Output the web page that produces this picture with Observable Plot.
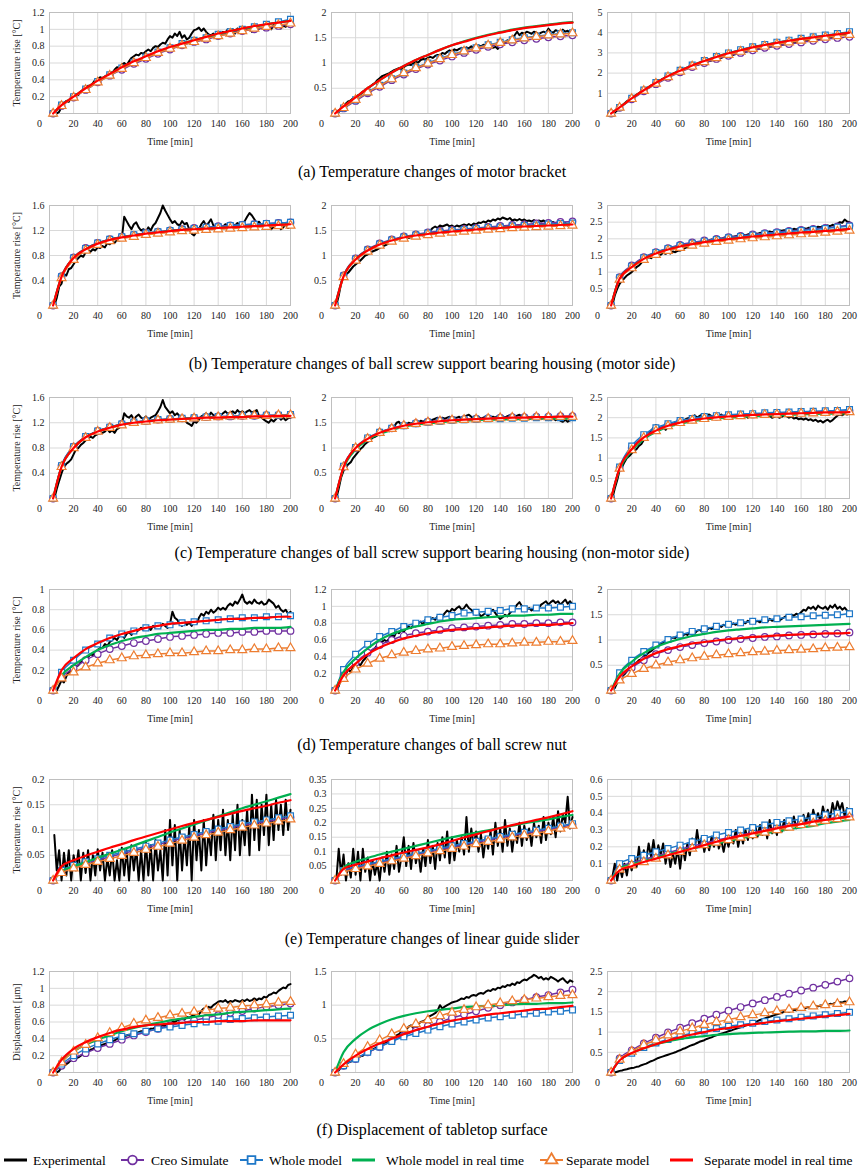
<!DOCTYPE html>
<html><head><meta charset="utf-8">
<script src="https://cdn.jsdelivr.net/npm/d3@7"></script>
<script src="https://cdn.jsdelivr.net/npm/@observablehq/plot@0.6"></script>
<style>
html,body{margin:0;padding:0;background:#fff;}
#page{position:relative;width:864px;height:1173px;overflow:hidden;font-family:"Liberation Serif","Times New Roman",serif;}
.panel{position:absolute;}
.caption{position:absolute;left:0;width:864px;text-align:center;font-size:16px;color:#000;line-height:20px;}
#legend{position:absolute;left:0;top:1148px;}
</style></head><body><div id="page"></div>
<script>
// ---------- shared axes ----------
const tModel = [3,10,20,30,40,50,60,70,80,90,100,110,120,130,140,150,160,170,180,190,200];
const tExp = d3.range(4, 201, 2);
const xTicks = [20,40,60,80,100,120,140,160,180,200];
const xZeroLabel = ["0"];
const seriesNames = ["Experimental","Creo Simulate","Whole model","Whole model in real time","Separate model","Separate model in real time"];
const captions = [
  "(a) Temperature changes of motor bracket",
  "(b) Temperature changes of ball screw support bearing housing (motor side)",
  "(c) Temperature changes of ball screw support bearing housing (non-motor side)",
  "(d) Temperature changes of ball screw nut",
  "(e) Temperature changes of linear guide slider",
  "(f) Displacement of tabletop surface"
];
const yLabels = ["Temperature rise [°C]","Temperature rise [°C]","Temperature rise [°C]","Temperature rise [°C]","Temperature rise [°C]","Displacement [μm]"];
const yMaxes = [[1.2,2,5],[1.6,2,3],[1.6,2,2.5],[1,1.2,2],[0.2,0.35,0.6],[1.2,1.5,2.5]];
const yTickSets = [
  [[0.2,0.4,0.6,0.8,1,1.2],[0.5,1,1.5,2],[1,2,3,4,5]],
  [[0.4,0.8,1.2,1.6],[0.5,1,1.5,2],[0.5,1,1.5,2,2.5,3]],
  [[0.4,0.8,1.2,1.6],[0.5,1,1.5,2],[0.5,1,1.5,2,2.5]],
  [[0.2,0.4,0.6,0.8,1],[0.2,0.4,0.6,0.8,1,1.2],[0.5,1,1.5,2]],
  [[0.05,0.1,0.15,0.2],[0.05,0.1,0.15,0.2,0.25,0.3,0.35],[0.1,0.2,0.3,0.4,0.5,0.6]],
  [[0.2,0.4,0.6,0.8,1,1.2],[0.5,1,1.5],[0.5,1,1.5,2,2.5]]
];

// ---------- (a) motor bracket ----------
const a1Exp = [0,0.0,0.02,0.08,0.12,0.15,0.14,0.19,0.2,0.23, 0.22,0.26,0.27,0.3,0.33,0.32,0.36,0.4,0.41,0.43, 0.42,0.44,0.46,0.45,0.48,0.52,0.55,0.54,0.58,0.6, 0.57,0.62,0.66,0.68,0.7,0.69,0.72,0.71,0.74,0.76, 0.74,0.78,0.8,0.79,0.82,0.84,0.83,0.88,0.92,0.9, 0.95,0.92,0.97,0.9,0.93,0.88,0.9,0.95,0.99,1.0, 1.02,0.98,1.01,0.97,0.94,0.93,0.95,0.9,0.96,0.92, 0.97,0.96,1.0,0.97,1.0,0.95,1.01,0.99,1.02,0.98, 1.0,1.02,0.97,1.03,0.99,1.01,1.02,1.0,1.04,1.03, 1.0,1.05,1.02,1.04,1.01,1.05,1.03,1.06,1.05];
const a1Creo = [0,0.09,0.19,0.28,0.37,0.45,0.52,0.59,0.65,0.71,0.76,0.81,0.85,0.88,0.92,0.95,0.98,1.0,1.02,1.04,1.06];
const a1Whole = [0,0.1,0.2,0.29,0.38,0.46,0.54,0.61,0.67,0.73,0.78,0.83,0.87,0.9,0.94,0.97,1.0,1.03,1.06,1.09,1.12];
const a1WholeRT = [0,0.1,0.2,0.3,0.39,0.47,0.55,0.61,0.67,0.73,0.78,0.83,0.87,0.91,0.94,0.98,1.01,1.03,1.06,1.08,1.1];
const a1Sep = [0,0.09,0.19,0.28,0.37,0.45,0.53,0.6,0.66,0.72,0.77,0.81,0.85,0.89,0.92,0.95,0.98,1.01,1.03,1.05,1.07];
const a1SepRT = [0,0.1,0.2,0.3,0.39,0.47,0.55,0.62,0.68,0.74,0.79,0.83,0.87,0.91,0.95,0.98,1.01,1.04,1.06,1.08,1.1];

const a2Exp = [0,0.03,0.08,0.15,0.2,0.24,0.26,0.3,0.33,0.36, 0.38,0.42,0.45,0.5,0.53,0.57,0.6,0.66,0.7,0.74, 0.76,0.78,0.8,0.83,0.86,0.88,0.9,0.88,0.92,0.95, 0.97,0.96,1.0,1.02,1.01,1.06,1.08,1.07,1.1,1.12, 1.1,1.14,1.16,1.15,1.2,1.18,1.22,1.25,1.23,1.27, 1.25,1.28,1.3,1.27,1.31,1.29,1.33,1.3,1.32,1.35, 1.33,1.36,1.35,1.38,1.33,1.3,1.32,1.28,1.35,1.38, 1.4,1.45,1.42,1.48,1.55,1.62,1.55,1.6,1.58,1.62, 1.6,1.58,1.62,1.6,1.57,1.6,1.62,1.6,1.68,1.62, 1.6,1.65,1.63,1.6,1.66,1.62,1.64,1.6,1.63];
const a2Creo = [0,0.1,0.25,0.4,0.53,0.66,0.77,0.88,0.97,1.05,1.13,1.2,1.26,1.32,1.37,1.41,1.45,1.48,1.51,1.53,1.55];
const a2Whole = [0,0.11,0.27,0.42,0.56,0.69,0.8,0.91,1.0,1.09,1.17,1.24,1.3,1.36,1.41,1.46,1.5,1.53,1.56,1.58,1.6];
const a2WholeRT = [0,0.14,0.32,0.5,0.66,0.81,0.94,1.06,1.16,1.26,1.35,1.43,1.5,1.56,1.61,1.66,1.7,1.73,1.76,1.79,1.81];
const a2Sep = [0,0.11,0.27,0.42,0.55,0.68,0.8,0.9,0.99,1.08,1.16,1.23,1.29,1.35,1.4,1.45,1.49,1.52,1.55,1.57,1.59];
const a2SepRT = [0,0.14,0.32,0.5,0.66,0.81,0.94,1.06,1.16,1.26,1.35,1.42,1.49,1.55,1.6,1.65,1.69,1.72,1.75,1.78,1.8];

const a3Exp = [0,0.05,0.15,0.3,0.4,0.5,0.6,0.68,0.76,0.85, 0.92,1.0,1.08,1.15,1.22,1.3,1.38,1.45,1.55,1.6, 1.65,1.72,1.78,1.82,1.9,1.95,2.0,2.05,2.1,2.15, 2.2,2.22,2.28,2.32,2.38,2.4,2.45,2.48,2.52,2.55, 2.6,2.62,2.66,2.7,2.72,2.75,2.8,2.82,2.85,2.88, 2.9,2.94,2.96,3.0,3.02,3.05,3.08,3.1,3.12,3.15, 3.18,3.2,3.22,3.25,3.27,3.3,3.32,3.33,3.35,3.38, 3.4,3.42,3.44,3.46,3.48,3.5,3.52,3.54,3.56,3.58, 3.6,3.62,3.63,3.65,3.67,3.68,3.7,3.72,3.74,3.76, 3.78,3.8,3.82,3.84,3.86,3.88,3.9,3.92,3.94];
const a3Creo = [0,0.28,0.7,1.1,1.45,1.77,2.04,2.3,2.5,2.7,2.86,3.0,3.13,3.25,3.35,3.44,3.52,3.6,3.67,3.74,3.8];
const a3Whole = [0,0.3,0.75,1.16,1.53,1.86,2.14,2.4,2.62,2.82,3.0,3.16,3.3,3.42,3.53,3.63,3.72,3.8,3.88,3.96,4.05];
const a3WholeRT = [0,0.3,0.75,1.15,1.52,1.85,2.12,2.38,2.6,2.8,2.98,3.13,3.27,3.39,3.5,3.6,3.69,3.77,3.85,3.92,4.0];
const a3Sep = [0,0.29,0.72,1.12,1.48,1.8,2.08,2.33,2.55,2.74,2.91,3.06,3.2,3.32,3.43,3.52,3.61,3.69,3.76,3.83,3.9];
const a3SepRT = [0,0.3,0.75,1.15,1.52,1.85,2.12,2.38,2.6,2.8,2.98,3.13,3.27,3.39,3.5,3.6,3.69,3.77,3.85,3.92,4.0];

// ---------- (b) bearing housing, motor side ----------
const b1Exp = [0,0.12,0.3,0.35,0.5,0.48,0.58,0.6,0.66,0.72, 0.76,0.8,0.78,0.85,0.88,0.86,0.9,0.88,0.93,0.92, 0.95,0.93,1.0,0.98,1.02,1.0,1.05,1.04,1.06,1.42, 1.35,1.28,1.22,1.3,1.33,1.25,1.2,1.22,1.18,1.25, 1.2,1.28,1.32,1.4,1.48,1.6,1.52,1.45,1.38,1.32, 1.35,1.3,1.28,1.35,1.3,1.32,1.22,1.15,1.12,1.18, 1.22,1.3,1.35,1.28,1.32,1.38,1.28,1.25,1.3,1.24, 1.26,1.3,1.28,1.25,1.3,1.28,1.32,1.28,1.3,1.35, 1.42,1.48,1.44,1.38,1.32,1.34,1.28,1.3,1.24,1.28, 1.22,1.26,1.24,1.28,1.22,1.25,1.3,1.24,1.27];
const b1Creo = [0,0.47,0.77,0.92,1.0,1.06,1.1,1.13,1.16,1.18,1.2,1.22,1.24,1.25,1.27,1.28,1.29,1.3,1.31,1.32,1.33];
const b1Whole = [0,0.46,0.76,0.91,1.0,1.06,1.1,1.13,1.16,1.18,1.2,1.22,1.23,1.25,1.26,1.28,1.29,1.3,1.31,1.32,1.33];
const b1WholeRT = [0,0.46,0.76,0.9,0.99,1.05,1.09,1.12,1.15,1.17,1.19,1.21,1.22,1.23,1.24,1.25,1.26,1.27,1.28,1.29,1.3];
const b1Sep = [0,0.44,0.73,0.88,0.97,1.03,1.07,1.1,1.13,1.15,1.17,1.19,1.2,1.21,1.22,1.23,1.24,1.25,1.26,1.27,1.28];
const b1SepRT = [0,0.46,0.76,0.9,0.99,1.05,1.09,1.12,1.15,1.17,1.19,1.21,1.22,1.23,1.24,1.25,1.26,1.27,1.28,1.29,1.3];

const b2Exp = [0,0.2,0.45,0.6,0.62,0.66,0.72,0.78,0.82,0.86, 0.9,0.95,1.0,1.02,1.05,1.08,1.1,1.12,1.15,1.18, 1.2,1.22,1.25,1.28,1.3,1.32,1.34,1.38,1.36,1.38, 1.35,1.37,1.36,1.38,1.4,1.42,1.4,1.43,1.45,1.5, 1.55,1.58,1.55,1.6,1.58,1.6,1.62,1.58,1.6,1.57, 1.6,1.58,1.6,1.62,1.6,1.63,1.6,1.64,1.62,1.66, 1.65,1.68,1.66,1.7,1.68,1.72,1.7,1.74,1.72,1.76, 1.74,1.72,1.75,1.7,1.72,1.7,1.73,1.7,1.72,1.69, 1.7,1.68,1.71,1.67,1.7,1.68,1.7,1.66,1.68,1.65, 1.67,1.64,1.66,1.63,1.62,1.65,1.6,1.63,1.64];
const b2Creo = [0,0.6,0.94,1.12,1.24,1.32,1.38,1.42,1.46,1.49,1.51,1.53,1.55,1.57,1.59,1.61,1.62,1.64,1.65,1.67,1.68];
const b2Whole = [0,0.59,0.93,1.11,1.23,1.31,1.37,1.41,1.45,1.47,1.5,1.52,1.54,1.56,1.57,1.59,1.6,1.61,1.63,1.64,1.65];
const b2WholeRT = [0,0.58,0.92,1.1,1.22,1.3,1.36,1.4,1.43,1.46,1.48,1.5,1.52,1.54,1.55,1.57,1.58,1.59,1.6,1.61,1.62];
const b2Sep = [0,0.57,0.9,1.08,1.2,1.28,1.34,1.38,1.41,1.44,1.46,1.48,1.5,1.52,1.53,1.55,1.56,1.57,1.58,1.59,1.6];
const b2SepRT = [0,0.58,0.92,1.1,1.22,1.3,1.36,1.4,1.43,1.46,1.48,1.5,1.52,1.54,1.55,1.57,1.58,1.59,1.6,1.61,1.62];

const b3Exp = [0,0.3,0.5,0.65,0.75,0.82,0.9,0.95,1.0,1.08, 1.15,1.2,1.28,1.35,1.4,1.45,1.42,1.48,1.5,1.55, 1.52,1.58,1.55,1.6,1.56,1.62,1.6,1.64,1.65,1.68, 1.72,1.75,1.8,1.82,1.85,1.88,1.9,1.88,1.92,1.94, 1.95,1.98,1.96,2.0,2.02,2.0,2.03,2.05,2.04,2.07, 2.06,2.08,2.1,2.09,2.12,2.1,2.13,2.15,2.14,2.16, 2.15,2.18,2.17,2.2,2.19,2.22,2.2,2.23,2.22,2.25, 2.24,2.26,2.25,2.28,2.27,2.3,2.28,2.3,2.29,2.32, 2.3,2.33,2.32,2.35,2.34,2.36,2.35,2.38,2.36,2.4, 2.38,2.42,2.4,2.45,2.5,2.48,2.58,2.52,2.5];
const b3Creo = [0,0.85,1.2,1.45,1.6,1.72,1.82,1.89,1.95,2.0,2.05,2.09,2.13,2.17,2.2,2.24,2.27,2.3,2.33,2.37,2.4];
const b3Whole = [0,0.83,1.18,1.43,1.59,1.71,1.8,1.87,1.93,1.98,2.03,2.07,2.11,2.15,2.18,2.22,2.25,2.28,2.31,2.35,2.38];
const b3WholeRT = [0,0.8,1.15,1.4,1.56,1.68,1.77,1.84,1.9,1.95,1.99,2.03,2.07,2.1,2.13,2.16,2.19,2.21,2.24,2.26,2.3];
const b3Sep = [0,0.78,1.12,1.37,1.52,1.64,1.73,1.8,1.86,1.91,1.95,1.99,2.02,2.05,2.08,2.11,2.14,2.16,2.19,2.22,2.25];
const b3SepRT = [0,0.8,1.15,1.4,1.56,1.68,1.77,1.84,1.9,1.95,1.99,2.03,2.07,2.1,2.13,2.16,2.19,2.21,2.24,2.26,2.3];

// ---------- (c) bearing housing, non-motor side ----------
const c1Exp = [0,0.15,0.28,0.4,0.5,0.55,0.58,0.62,0.7,0.78, 0.8,0.85,0.88,0.92,0.95,0.98,0.96,1.0,1.02,1.05, 1.04,1.06,1.1,1.05,1.08,1.04,1.1,1.12,1.18,1.35, 1.3,1.28,1.32,1.25,1.3,1.33,1.28,1.26,1.3,1.25, 1.28,1.3,1.32,1.38,1.45,1.56,1.45,1.4,1.35,1.38, 1.32,1.35,1.3,1.28,1.25,1.2,1.18,1.15,1.22,1.2, 1.25,1.3,1.32,1.35,1.3,1.36,1.32,1.3,1.35,1.32, 1.35,1.38,1.34,1.36,1.38,1.35,1.4,1.36,1.38,1.35, 1.38,1.4,1.36,1.38,1.4,1.3,1.28,1.25,1.22,1.2, 1.25,1.22,1.26,1.3,1.25,1.28,1.24,1.27,1.28];
const c1Creo = [0,0.52,0.82,0.98,1.07,1.13,1.18,1.21,1.23,1.25,1.26,1.27,1.28,1.29,1.3,1.3,1.31,1.31,1.32,1.32,1.33];
const c1Whole = [0,0.52,0.82,0.98,1.07,1.13,1.18,1.21,1.23,1.25,1.26,1.27,1.28,1.29,1.3,1.3,1.31,1.31,1.32,1.32,1.33];
const c1WholeRT = [0,0.5,0.8,0.97,1.06,1.12,1.17,1.2,1.22,1.24,1.25,1.26,1.27,1.28,1.28,1.29,1.29,1.3,1.3,1.31,1.31];
const c1Sep = [0,0.5,0.8,0.96,1.06,1.12,1.16,1.2,1.22,1.24,1.25,1.26,1.27,1.28,1.29,1.3,1.3,1.31,1.31,1.32,1.32];
const c1SepRT = [0,0.5,0.8,0.97,1.06,1.12,1.17,1.2,1.22,1.24,1.25,1.26,1.27,1.28,1.28,1.29,1.29,1.3,1.3,1.31,1.31];

const c2Exp = [0,0.2,0.42,0.55,0.62,0.68,0.72,0.8,0.86,0.92, 0.98,1.02,1.08,1.12,1.15,1.2,1.22,1.25,1.28,1.3, 1.32,1.35,1.33,1.38,1.42,1.5,1.52,1.45,1.48,1.46, 1.5,1.48,1.5,1.52,1.5,1.54,1.52,1.55,1.56,1.54, 1.56,1.58,1.6,1.57,1.6,1.58,1.6,1.62,1.58,1.6, 1.6,1.62,1.58,1.62,1.64,1.66,1.62,1.58,1.6,1.62, 1.58,1.6,1.62,1.58,1.6,1.62,1.6,1.63,1.6,1.62, 1.6,1.63,1.65,1.6,1.62,1.64,1.66,1.62,1.6,1.63, 1.6,1.62,1.58,1.6,1.62,1.58,1.6,1.57,1.6,1.56, 1.58,1.55,1.58,1.54,1.52,1.56,1.52,1.55,1.56];
const c2Creo = [0,0.63,1.0,1.19,1.31,1.39,1.45,1.49,1.52,1.54,1.56,1.57,1.58,1.59,1.6,1.61,1.61,1.62,1.62,1.63,1.63];
const c2Whole = [0,0.64,1.01,1.2,1.31,1.39,1.44,1.48,1.51,1.53,1.55,1.56,1.57,1.58,1.58,1.59,1.59,1.6,1.6,1.6,1.6];
const c2WholeRT = [0,0.6,0.97,1.16,1.28,1.36,1.42,1.46,1.49,1.51,1.53,1.54,1.55,1.56,1.56,1.57,1.57,1.58,1.58,1.58,1.58];
const c2Sep = [0,0.62,1.0,1.18,1.3,1.38,1.44,1.48,1.51,1.53,1.55,1.56,1.57,1.58,1.59,1.6,1.6,1.61,1.61,1.62,1.62];
const c2SepRT = [0,0.62,1.0,1.18,1.3,1.38,1.44,1.48,1.51,1.53,1.55,1.56,1.57,1.58,1.59,1.6,1.6,1.61,1.61,1.62,1.62];

const c3Exp = [0,0.25,0.45,0.7,0.78,0.9,1.0,1.05,1.12,1.18, 1.22,1.3,1.35,1.45,1.52,1.6,1.68,1.75,1.82,1.78, 1.72,1.8,1.7,1.78,1.85,1.82,1.88,1.85,1.9,1.92, 1.95,1.98,2.0,2.02,2.06,2.0,2.04,2.08,2.02,2.05, 2.08,2.04,2.02,2.06,2.04,2.08,2.02,2.05,2.0,2.04, 2.06,2.02,2.05,2.08,2.03,2.06,2.0,2.04,2.06,2.02, 2.05,2.08,2.04,2.06,2.03,2.05,2.0,2.02,2.05,2.0, 2.02,2.06,2.04,2.0,2.03,1.98,2.0,1.96,1.98,1.95, 1.98,1.94,1.96,1.92,1.95,1.9,1.93,1.88,1.92,1.95, 1.9,1.94,2.0,2.05,2.08,2.06,2.1,2.08,2.1];
const c3Creo = [0,0.76,1.25,1.53,1.7,1.82,1.9,1.96,2.0,2.03,2.05,2.07,2.08,2.1,2.11,2.12,2.13,2.14,2.15,2.16,2.17];
const c3Whole = [0,0.78,1.3,1.58,1.75,1.85,1.93,1.98,2.03,2.05,2.07,2.09,2.1,2.12,2.13,2.14,2.15,2.16,2.17,2.18,2.2];
const c3WholeRT = [0,0.72,1.18,1.47,1.65,1.77,1.85,1.91,1.95,1.98,2.0,2.02,2.04,2.05,2.06,2.07,2.08,2.09,2.1,2.1,2.11];
const c3Sep = [0,0.74,1.2,1.5,1.67,1.79,1.87,1.93,1.97,2.0,2.02,2.04,2.06,2.07,2.08,2.09,2.1,2.11,2.12,2.13,2.14];
const c3SepRT = [0,0.75,1.22,1.51,1.68,1.8,1.88,1.94,1.98,2.01,2.03,2.05,2.07,2.08,2.09,2.1,2.11,2.12,2.13,2.13,2.14];

// ---------- (d) ball screw nut ----------
const d1Exp = [0,0.0,0.05,0.1,0.08,0.14,0.18,0.2,0.22,0.24, 0.25,0.28,0.3,0.32,0.33,0.36,0.35,0.38,0.4,0.42, 0.42,0.46,0.44,0.48,0.5,0.52,0.5,0.54,0.55,0.52, 0.56,0.58,0.55,0.6,0.58,0.6,0.62,0.6,0.63,0.62, 0.6,0.64,0.62,0.65,0.63,0.66,0.64,0.62,0.66,0.78, 0.72,0.7,0.66,0.64,0.68,0.65,0.67,0.64,0.68,0.66, 0.72,0.76,0.74,0.78,0.76,0.8,0.77,0.79,0.82,0.8, 0.82,0.8,0.84,0.86,0.84,0.88,0.86,0.9,0.95,0.88, 0.86,0.88,0.86,0.9,0.87,0.86,0.88,0.85,0.86,0.9, 0.88,0.86,0.82,0.84,0.8,0.78,0.8,0.76,0.78];
const d1Creo = [0,0.13,0.22,0.3,0.36,0.41,0.44,0.47,0.49,0.51,0.53,0.54,0.55,0.56,0.57,0.57,0.58,0.58,0.59,0.59,0.59];
const d1Whole = [0,0.18,0.3,0.4,0.46,0.52,0.56,0.59,0.62,0.64,0.65,0.67,0.68,0.69,0.7,0.71,0.72,0.72,0.73,0.73,0.74];
const d1WholeRT = [0,0.15,0.25,0.33,0.4,0.45,0.49,0.52,0.54,0.56,0.57,0.58,0.59,0.6,0.6,0.61,0.61,0.62,0.62,0.62,0.63];
const d1Sep = [0,0.12,0.18,0.23,0.27,0.3,0.32,0.34,0.35,0.36,0.37,0.37,0.38,0.39,0.39,0.4,0.4,0.41,0.41,0.42,0.42];
const d1SepRT = [0,0.2,0.32,0.41,0.47,0.52,0.56,0.59,0.62,0.64,0.66,0.67,0.68,0.69,0.7,0.71,0.71,0.72,0.72,0.73,0.73];

const d2Exp = [0,0.05,0.15,0.12,0.2,0.25,0.22,0.28,0.3,0.32, 0.3,0.35,0.38,0.42,0.45,0.48,0.5,0.54,0.56,0.58, 0.6,0.58,0.62,0.66,0.64,0.7,0.68,0.72,0.7,0.74, 0.76,0.74,0.78,0.76,0.8,0.82,0.78,0.84,0.82,0.85, 0.86,0.84,0.88,0.9,0.88,0.92,0.95,0.93,0.97,0.95, 0.98,1.0,0.96,0.98,1.02,0.98,0.96,0.92,0.9,0.92, 0.88,0.9,0.92,0.88,0.94,0.96,0.92,0.88,0.85,0.87, 0.9,0.88,0.92,0.95,0.98,1.02,1.05,1.0,0.98,0.96, 0.98,0.95,0.97,1.0,0.98,1.02,1.04,1.06,1.02,1.05, 1.07,1.04,1.06,1.02,1.05,1.08,1.03,1.06,1.02];
const d2Creo = [0,0.18,0.33,0.45,0.54,0.6,0.65,0.68,0.7,0.72,0.74,0.75,0.76,0.77,0.78,0.79,0.79,0.8,0.8,0.81,0.81];
const d2Whole = [0,0.25,0.43,0.55,0.64,0.7,0.76,0.8,0.84,0.87,0.89,0.92,0.93,0.94,0.95,0.97,0.97,0.98,0.98,0.99,1.0];
const d2WholeRT = [0,0.22,0.38,0.5,0.6,0.67,0.72,0.76,0.79,0.82,0.84,0.85,0.86,0.87,0.88,0.89,0.89,0.9,0.9,0.91,0.91];
const d2Sep = [0,0.14,0.25,0.32,0.38,0.42,0.45,0.47,0.49,0.5,0.52,0.53,0.54,0.55,0.55,0.56,0.57,0.57,0.58,0.58,0.59];
const d2SepRT = [0,0.18,0.32,0.43,0.51,0.57,0.62,0.65,0.68,0.7,0.72,0.73,0.74,0.75,0.76,0.77,0.77,0.78,0.78,0.79,0.8];

const d3Exp = [0,0.05,0.15,0.2,0.28,0.32,0.38,0.42,0.48,0.52, 0.55,0.6,0.62,0.68,0.7,0.75,0.78,0.82,0.86,0.88, 0.92,0.95,0.98,1.0,1.02,1.05,1.04,1.08,1.1,1.08, 1.12,1.1,1.14,1.16,1.13,1.18,1.2,1.17,1.22,1.2, 1.24,1.22,1.26,1.24,1.28,1.26,1.3,1.28,1.32,1.3, 1.33,1.3,1.34,1.32,1.36,1.33,1.38,1.35,1.4,1.36, 1.38,1.35,1.4,1.38,1.36,1.42,1.38,1.4,1.42,1.38, 1.42,1.45,1.48,1.45,1.5,1.48,1.52,1.5,1.55,1.6, 1.58,1.65,1.62,1.66,1.6,1.68,1.64,1.62,1.66,1.6, 1.68,1.64,1.7,1.62,1.66,1.6,1.64,1.58,1.56];
const d3Creo = [0,0.25,0.45,0.6,0.72,0.8,0.86,0.9,0.94,0.97,1.0,1.02,1.04,1.06,1.07,1.09,1.1,1.11,1.12,1.13,1.15];
const d3Whole = [0,0.35,0.6,0.77,0.9,1.01,1.1,1.17,1.22,1.27,1.31,1.34,1.37,1.4,1.42,1.45,1.46,1.48,1.49,1.5,1.52];
const d3WholeRT = [0,0.33,0.57,0.74,0.86,0.95,1.02,1.08,1.12,1.16,1.19,1.21,1.23,1.25,1.26,1.27,1.28,1.29,1.3,1.31,1.32];
const d3Sep = [0,0.2,0.33,0.43,0.5,0.56,0.6,0.64,0.67,0.7,0.72,0.74,0.76,0.77,0.79,0.8,0.81,0.82,0.84,0.85,0.86];
const d3SepRT = [0,0.27,0.48,0.63,0.74,0.82,0.88,0.93,0.96,0.99,1.02,1.04,1.06,1.07,1.09,1.1,1.11,1.12,1.13,1.13,1.14];

// ---------- (e) linear guide slider ----------
const e1Exp = [0.09,0.02,0.06,0.0,0.055,0.01,0.06,0.0,0.05,0.02, 0.06,0.0,0.055,0.015,0.06,0.0,0.05,0.01,0.062,0.02, 0.055,0.0,0.045,0.01,0.06,0.0,0.04,0.0,0.065,0.01, 0.06,0.0,0.07,0.02,0.065,0.0,0.06,0.0,0.075,0.01, 0.07,0.0,0.08,0.02,0.06,0.0,0.1,0.01,0.12,0.03, 0.11,0.0,0.1,0.02,0.09,0.03,0.11,0.0,0.12,0.04, 0.1,0.02,0.12,0.03,0.1,0.05,0.13,0.04,0.12,0.06, 0.14,0.05,0.12,0.04,0.13,0.06,0.15,0.05,0.12,0.07, 0.14,0.05,0.17,0.08,0.16,0.06,0.15,0.09,0.17,0.07, 0.15,0.08,0.16,0.1,0.15,0.09,0.16,0.1,0.14];
const e1Creo = [0,0.017,0.027,0.034,0.04,0.047,0.053,0.059,0.065,0.071,0.077,0.083,0.088,0.094,0.099,0.104,0.109,0.113,0.117,0.121,0.125];
const e1Whole = [0,0.02,0.03,0.037,0.043,0.05,0.056,0.062,0.068,0.074,0.08,0.086,0.091,0.097,0.102,0.107,0.112,0.116,0.12,0.124,0.128];
const e1WholeRT = [0,0.018,0.028,0.036,0.045,0.053,0.061,0.069,0.078,0.086,0.095,0.103,0.111,0.119,0.127,0.135,0.143,0.15,0.157,0.164,0.171];
const e1Sep = [0,0.015,0.024,0.031,0.037,0.043,0.049,0.055,0.061,0.067,0.073,0.079,0.085,0.09,0.095,0.1,0.105,0.109,0.113,0.117,0.121];
const e1SepRT = [0,0.028,0.04,0.049,0.057,0.065,0.072,0.08,0.087,0.094,0.101,0.108,0.114,0.12,0.126,0.132,0.138,0.143,0.148,0.154,0.159];

const e2Exp = [0.0,0.11,0.02,0.09,0.0,0.06,0.01,0.11,0.02,0.1, 0.0,0.11,0.03,0.08,0.0,0.07,0.02,0.06,0.0,0.08, 0.03,0.1,0.02,0.09,0.04,0.12,0.03,0.08,0.15,0.05, 0.12,0.04,0.13,0.06,0.1,0.03,0.11,0.05,0.14,0.06, 0.12,0.04,0.13,0.07,0.15,0.08,0.17,0.06,0.15,0.07, 0.14,0.1,0.15,0.09,0.22,0.1,0.18,0.12,0.17,0.1, 0.16,0.08,0.15,0.11,0.17,0.09,0.2,0.12,0.18,0.1, 0.21,0.12,0.18,0.1,0.17,0.13,0.2,0.12,0.19,0.14, 0.18,0.12,0.2,0.15,0.19,0.13,0.22,0.14,0.2,0.16, 0.22,0.15,0.24,0.17,0.23,0.2,0.29,0.18,0.22];
const e2Creo = [0,0.032,0.045,0.054,0.063,0.072,0.08,0.089,0.098,0.107,0.116,0.124,0.132,0.14,0.148,0.156,0.163,0.17,0.177,0.185,0.193];
const e2Whole = [0,0.035,0.048,0.057,0.066,0.075,0.084,0.093,0.102,0.111,0.12,0.128,0.136,0.144,0.152,0.16,0.167,0.174,0.181,0.189,0.197];
const e2WholeRT = [0,0.045,0.065,0.078,0.09,0.1,0.11,0.12,0.13,0.14,0.15,0.158,0.166,0.174,0.182,0.19,0.198,0.205,0.212,0.22,0.227];
const e2Sep = [0,0.028,0.04,0.049,0.058,0.067,0.076,0.085,0.094,0.102,0.11,0.118,0.126,0.134,0.142,0.15,0.157,0.164,0.171,0.18,0.19];
const e2SepRT = [0,0.04,0.055,0.066,0.077,0.087,0.097,0.106,0.115,0.125,0.137,0.149,0.16,0.171,0.182,0.192,0.201,0.21,0.219,0.229,0.24];

const e3Exp = [0.02,0.1,0.0,0.08,0.02,0.1,0.03,0.12,0.06,0.14, 0.08,0.2,0.1,0.18,0.12,0.22,0.14,0.24,0.13,0.21, 0.15,0.22,0.1,0.18,0.08,0.16,0.1,0.19,0.07,0.2, 0.12,0.22,0.15,0.25,0.18,0.3,0.2,0.26,0.17,0.24, 0.18,0.26,0.2,0.28,0.19,0.24,0.17,0.25,0.2,0.27, 0.22,0.3,0.2,0.28,0.22,0.3,0.24,0.32,0.25,0.33, 0.26,0.33,0.27,0.34,0.25,0.36,0.28,0.33,0.27,0.35, 0.29,0.36,0.3,0.35,0.32,0.38,0.31,0.36,0.33,0.39, 0.34,0.4,0.33,0.42,0.36,0.4,0.35,0.44,0.38,0.42, 0.37,0.46,0.4,0.47,0.42,0.46,0.38,0.43,0.4];
const e3Creo = [0,0.08,0.105,0.125,0.145,0.165,0.185,0.205,0.22,0.24,0.255,0.27,0.285,0.3,0.315,0.33,0.34,0.355,0.365,0.375,0.385];
const e3Whole = [0,0.1,0.13,0.15,0.17,0.19,0.21,0.23,0.25,0.27,0.285,0.3,0.315,0.33,0.345,0.355,0.365,0.375,0.39,0.4,0.41];
const e3WholeRT = [0,0.07,0.095,0.115,0.135,0.155,0.175,0.19,0.205,0.22,0.235,0.25,0.265,0.28,0.29,0.305,0.315,0.325,0.34,0.35,0.36];
const e3Sep = [0,0.065,0.09,0.11,0.13,0.15,0.17,0.19,0.21,0.225,0.24,0.255,0.27,0.285,0.3,0.315,0.33,0.34,0.355,0.365,0.375];
const e3SepRT = [0,0.06,0.085,0.11,0.13,0.15,0.17,0.19,0.21,0.23,0.25,0.265,0.28,0.295,0.31,0.325,0.335,0.35,0.36,0.37,0.38];

// ---------- (f) tabletop displacement ----------
const f1Exp = [0,0.0,0.02,0.06,0.08,0.1,0.12,0.15,0.14,0.17, 0.18,0.2,0.22,0.23,0.25,0.27,0.28,0.3,0.31,0.32, 0.33,0.34,0.35,0.36,0.37,0.38,0.4,0.41,0.42,0.43, 0.44,0.45,0.45,0.47,0.47,0.48,0.49,0.49,0.5,0.51, 0.52,0.52,0.54,0.53,0.55,0.56,0.55,0.57,0.58,0.6, 0.6,0.62,0.62,0.64,0.63,0.66,0.65,0.67,0.68,0.7, 0.69,0.73,0.76,0.74,0.78,0.77,0.8,0.82,0.84,0.85, 0.84,0.86,0.83,0.85,0.84,0.86,0.85,0.84,0.86,0.85, 0.87,0.85,0.86,0.88,0.86,0.88,0.87,0.9,0.89,0.92, 0.93,0.95,0.94,0.97,0.99,1.01,1.0,1.04,1.05];
const f1Creo = [0,0.08,0.17,0.23,0.29,0.34,0.39,0.44,0.48,0.52,0.56,0.59,0.62,0.65,0.68,0.71,0.73,0.76,0.78,0.8,0.82];
const f1Whole = [0,0.1,0.2,0.28,0.34,0.39,0.43,0.46,0.49,0.52,0.54,0.56,0.58,0.6,0.61,0.63,0.64,0.65,0.66,0.67,0.68];
const f1WholeRT = [0,0.13,0.25,0.33,0.39,0.44,0.49,0.53,0.56,0.59,0.62,0.64,0.66,0.68,0.69,0.71,0.72,0.73,0.74,0.75,0.76];
const f1Sep = [0,0.12,0.25,0.33,0.41,0.47,0.53,0.58,0.62,0.65,0.68,0.7,0.72,0.74,0.76,0.77,0.79,0.8,0.81,0.83,0.84];
const f1SepRT = [0,0.15,0.28,0.36,0.42,0.47,0.51,0.54,0.56,0.57,0.58,0.59,0.6,0.6,0.61,0.61,0.61,0.62,0.62,0.62,0.62];

const f2Exp = [0,0.03,0.08,0.1,0.12,0.15,0.16,0.18,0.2,0.22, 0.24,0.25,0.28,0.3,0.32,0.34,0.36,0.38,0.4,0.42, 0.44,0.45,0.48,0.5,0.52,0.55,0.57,0.6,0.62,0.64, 0.68,0.7,0.66,0.68,0.72,0.75,0.76,0.78,0.82,0.84, 0.86,0.88,0.92,1.0,0.95,0.98,1.0,1.02,1.04,1.05, 1.06,1.08,1.1,1.09,1.12,1.11,1.14,1.15,1.14,1.17, 1.18,1.17,1.2,1.22,1.21,1.24,1.23,1.26,1.25,1.28, 1.27,1.3,1.29,1.32,1.3,1.34,1.33,1.36,1.38,1.37, 1.4,1.42,1.45,1.43,1.4,1.42,1.38,1.4,1.38,1.42, 1.4,1.38,1.35,1.38,1.4,1.36,1.33,1.37,1.35];
const f2Creo = [0,0.1,0.2,0.3,0.38,0.47,0.55,0.62,0.69,0.75,0.81,0.86,0.91,0.96,1.0,1.04,1.08,1.12,1.15,1.19,1.23];
const f2Whole = [0,0.1,0.2,0.3,0.38,0.46,0.53,0.58,0.63,0.68,0.72,0.75,0.78,0.81,0.83,0.85,0.87,0.88,0.9,0.91,0.93];
const f2WholeRT = [0,0.3,0.5,0.63,0.72,0.79,0.84,0.88,0.91,0.93,0.95,0.97,0.98,0.99,1.0,1.01,1.02,1.02,1.03,1.03,1.04];
const f2Sep = [0,0.13,0.27,0.38,0.48,0.57,0.65,0.72,0.78,0.84,0.89,0.93,0.97,1.0,1.03,1.06,1.08,1.1,1.12,1.14,1.15];
const f2SepRT = [0,0.12,0.25,0.35,0.43,0.5,0.57,0.63,0.68,0.73,0.77,0.8,0.83,0.86,0.88,0.9,0.92,0.94,0.95,0.97,0.99];

const f3Exp = [0,0.0,0.02,0.04,0.05,0.07,0.08,0.1,0.11,0.12, 0.14,0.15,0.18,0.2,0.22,0.25,0.28,0.3,0.33,0.36, 0.38,0.4,0.42,0.44,0.46,0.48,0.5,0.53,0.55,0.58, 0.6,0.63,0.66,0.68,0.7,0.73,0.76,0.78,0.8,0.83, 0.85,0.87,0.9,0.92,0.94,0.96,0.98,1.0,1.02,1.04, 1.06,1.08,1.1,1.12,1.14,1.16,1.18,1.2,1.22,1.24, 1.27,1.3,1.32,1.34,1.36,1.38,1.4,1.42,1.44,1.46, 1.48,1.5,1.52,1.5,1.53,1.55,1.54,1.57,1.56,1.58, 1.6,1.62,1.6,1.63,1.65,1.64,1.66,1.65,1.68,1.67, 1.7,1.69,1.72,1.71,1.74,1.73,1.76,1.75,1.8];
const f3Creo = [0,0.35,0.55,0.72,0.86,0.99,1.11,1.22,1.33,1.43,1.53,1.62,1.71,1.79,1.87,1.95,2.03,2.1,2.17,2.25,2.33];
const f3Whole = [0,0.3,0.48,0.62,0.73,0.82,0.9,0.97,1.03,1.09,1.14,1.18,1.22,1.26,1.3,1.33,1.37,1.4,1.43,1.46,1.49];
const f3WholeRT = [0,0.3,0.48,0.6,0.7,0.77,0.83,0.87,0.9,0.93,0.95,0.97,0.98,0.99,1.0,1.01,1.02,1.02,1.03,1.03,1.04];
const f3Sep = [0,0.32,0.52,0.68,0.8,0.92,1.02,1.1,1.18,1.25,1.31,1.37,1.42,1.47,1.52,1.56,1.6,1.64,1.67,1.7,1.74];
const f3SepRT = [0,0.3,0.48,0.6,0.7,0.79,0.87,0.94,1.0,1.06,1.1,1.15,1.19,1.23,1.27,1.3,1.33,1.36,1.39,1.42,1.45];

// ---------- assemble panels ----------
const grid = [
  [[a1Exp,a1Creo,a1Whole,a1WholeRT,a1Sep,a1SepRT],[a2Exp,a2Creo,a2Whole,a2WholeRT,a2Sep,a2SepRT],[a3Exp,a3Creo,a3Whole,a3WholeRT,a3Sep,a3SepRT]],
  [[b1Exp,b1Creo,b1Whole,b1WholeRT,b1Sep,b1SepRT],[b2Exp,b2Creo,b2Whole,b2WholeRT,b2Sep,b2SepRT],[b3Exp,b3Creo,b3Whole,b3WholeRT,b3Sep,b3SepRT]],
  [[c1Exp,c1Creo,c1Whole,c1WholeRT,c1Sep,c1SepRT],[c2Exp,c2Creo,c2Whole,c2WholeRT,c2Sep,c2SepRT],[c3Exp,c3Creo,c3Whole,c3WholeRT,c3Sep,c3SepRT]],
  [[d1Exp,d1Creo,d1Whole,d1WholeRT,d1Sep,d1SepRT],[d2Exp,d2Creo,d2Whole,d2WholeRT,d2Sep,d2SepRT],[d3Exp,d3Creo,d3Whole,d3WholeRT,d3Sep,d3SepRT]],
  [[e1Exp,e1Creo,e1Whole,e1WholeRT,e1Sep,e1SepRT],[e2Exp,e2Creo,e2Whole,e2WholeRT,e2Sep,e2SepRT],[e3Exp,e3Creo,e3Whole,e3WholeRT,e3Sep,e3SepRT]],
  [[f1Exp,f1Creo,f1Whole,f1WholeRT,f1Sep,f1SepRT],[f2Exp,f2Creo,f2Whole,f2WholeRT,f2Sep,f2SepRT],[f3Exp,f3Creo,f3Whole,f3WholeRT,f3Sep,f3SepRT]]
];

const C = {exp:"#000000", creo:"#7030A0", whole:"#1F78C8", wholeRT:"#00B050", sep:"#ED7D31", sepRT:"#FF0000"};
const serif = "'Liberation Serif','Times New Roman',Times,serif";
const colL = [49, 331, 607], colR = [290, 572, 849];
const rowT = [12, 205, 397, 589, 779, 971], rowB = [113, 305, 498, 690, 880, 1072];
const captionY = [172, 364, 553, 745, 939, 1130];
const fmt = d => String(+d.toFixed(3));
const page = document.getElementById("page");

function pts(ts, vs){ return ts.map((t,i)=>({t, v:vs[i]})); }

for (let r = 0; r < 6; r++) {
  for (let c = 0; c < 3; c++) {
    const [ex, cr, wh, whRT, sp, spRT] = grid[r][c];
    const mL = c === 0 ? 49 : 44, mT = 8, mR = 12, mB = 38;
    const width = mL + (colR[c]-colL[c]) + mR;
    const height = mT + (rowB[r]-rowT[r]) + mB;
    const yTicks = yTickSets[r][c];
    const line = (data, color, w) => Plot.line(data, {x:"t", y:"v", stroke:color, strokeWidth:w, curve:"monotone-x"});
    const dots = (data, color, sym) => Plot.dot(data, {x:"t", y:"v", symbol:sym, r:3.3, fill:"white", stroke:color, strokeWidth:1.2});
    const chart = Plot.plot({
      width, height, marginLeft:mL, marginRight:mR, marginTop:mT, marginBottom:mB,
      x:{domain:[0,200]}, y:{domain:[0, yMaxes[r][c]]},
      style:{fontFamily:serif, fontSize:"10px", background:"transparent", overflow:"visible", color:"#222"},
      marks:[
        Plot.gridX(xTicks, {stroke:"#d9d9d9", strokeOpacity:1}),
        Plot.gridY(yTicks, {stroke:"#d9d9d9", strokeOpacity:1}),
        Plot.frame({stroke:"#bfbfbf"}),
        Plot.axisX(xTicks, {tickSize:0, tickPadding:6, label:"Time [min]", labelAnchor:"center", labelArrow:"none", labelOffset:31, fontFamily:serif}),
        Plot.text(xZeroLabel, {frameAnchor:"bottom-left", textAnchor:"middle", lineAnchor:"top", dx:-10, dy:6, fontFamily:serif, fontSize:10, fill:"#222"}),
        Plot.axisY(yTicks, {tickSize:0, tickPadding:5, tickFormat:fmt, label: c === 0 ? yLabels[r] : null, labelAnchor:"center", labelArrow:"none", labelOffset:37, fontFamily:serif}),
        Plot.line(pts(tExp, ex), {x:"t", y:"v", stroke:C.exp, strokeWidth:2}),
        line(pts(tModel, cr), C.creo, 1.5),
        dots(pts(tModel, cr), C.creo, "circle"),
        line(pts(tModel, wh), C.whole, 1.5),
        dots(pts(tModel, wh), C.whole, "square"),
        line(pts(tModel, whRT), C.wholeRT, 2.2),
        line(pts(tModel, sp), C.sep, 1.5),
        dots(pts(tModel, sp), C.sep, "triangle"),
        line(pts(tModel, spRT), C.sepRT, 2.2)
      ]
    });
    const div = document.createElement("div");
    div.className = "panel";
    div.style.left = (colL[c] - mL) + "px";
    div.style.top = (rowT[r] - mT) + "px";
    div.appendChild(chart);
    page.appendChild(div);
  }
  const cap = document.createElement("div");
  cap.className = "caption";
  cap.style.top = (captionY[r] - 10) + "px";
  cap.textContent = captions[r];
  page.appendChild(cap);
}

// ---------- legend ----------
const legendX = [4, 121, 240, 352, 540, 670];
const legendTextX = [33, 151, 269, 386, 566, 704];
const legendKinds = [
  {color:C.exp, sym:null, w:3},
  {color:C.creo, sym:d3.symbolCircle, w:2},
  {color:C.whole, sym:d3.symbolSquare, w:2},
  {color:C.wholeRT, sym:null, w:3},
  {color:C.sep, sym:d3.symbolTriangle, w:2},
  {color:C.sepRT, sym:null, w:3}
];
const lg = d3.create("svg").attr("width", 864).attr("height", 24).attr("id","legend");
seriesNames.forEach((name, i) => {
  const k = legendKinds[i], x0 = legendX[i], x1 = x0 + 23, cy = 12;
  lg.append("line").attr("x1", x0).attr("x2", x1).attr("y1", cy).attr("y2", cy).attr("stroke", k.color).attr("stroke-width", k.w);
  if (k.sym) lg.append("path").attr("d", d3.symbol(k.sym, 60)()).attr("transform", `translate(${(x0+x1)/2},${cy})`).attr("fill","white").attr("stroke", k.color).attr("stroke-width", 1.8);
  lg.append("text").attr("x", legendTextX[i]).attr("y", cy).attr("dy","0.35em").attr("font-size","13.5px").attr("font-family", serif).attr("fill","#000").text(name);
});
page.appendChild(lg.node());
</script>
</body></html>
